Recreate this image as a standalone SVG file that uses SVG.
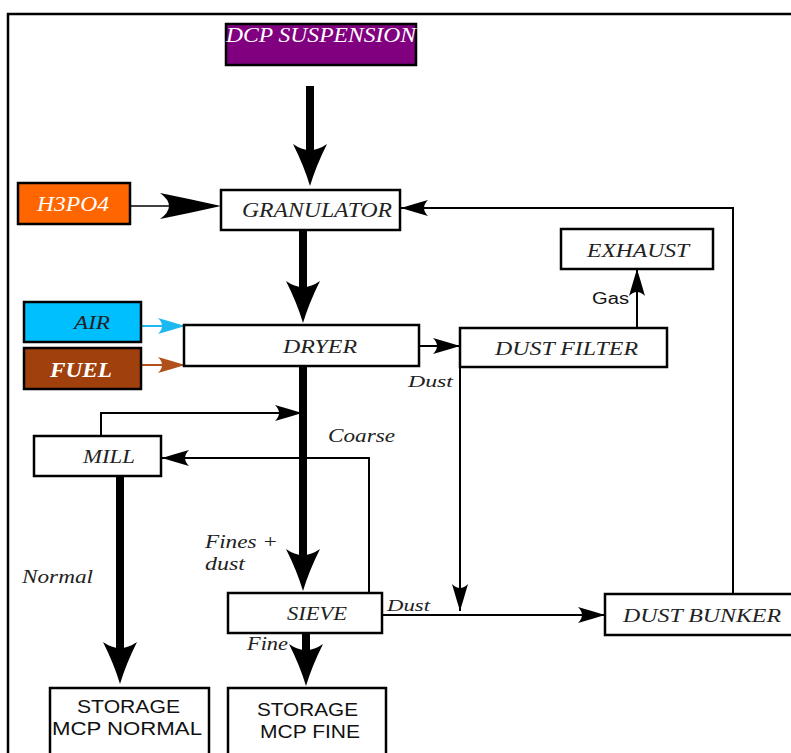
<svg xmlns="http://www.w3.org/2000/svg" width="791" height="753" viewBox="0 0 791 753">
<style>
.box{stroke:#000;stroke-width:2.5;fill:#fff}
.it{font-family:"Liberation Serif","Times New Roman",serif;font-style:italic;fill:#222}
.sans{font-family:"Liberation Sans",Arial,sans-serif;fill:#111}
.ln{stroke:#000;stroke-width:2;fill:none}
.thick{stroke:#000;stroke-width:8;fill:none}
</style>
<defs>
<path id="thead" d="M0,0 Q-6,-20 -17,-42 Q0,-30 17,-42 Q6,-20 0,0Z" fill="#000"/>
<marker id="ah" markerUnits="userSpaceOnUse" markerWidth="28" markerHeight="16" refX="27" refY="8" orient="auto"><path d="M27,8 Q14,4 0,0 Q8,8 0,16 Q14,12 27,8Z" fill="#000"/></marker>
<marker id="ahc" markerUnits="userSpaceOnUse" markerWidth="28" markerHeight="16" refX="27" refY="8" orient="auto"><path d="M27,8 Q14,4 0,0 Q8,8 0,16 Q14,12 27,8Z" fill="#1EB8F0"/></marker>
<marker id="ahb" markerUnits="userSpaceOnUse" markerWidth="28" markerHeight="16" refX="27" refY="8" orient="auto"><path d="M27,8 Q14,4 0,0 Q8,8 0,16 Q14,12 27,8Z" fill="#B0501A"/></marker>
</defs>
<rect width="791" height="753" fill="#fff"/>
<path d="M8,753 V14 H791" stroke="#000" stroke-width="2.5" fill="none"/>

<g id="connectors">
<line class="thick" x1="310" y1="86" x2="310" y2="160"/><use href="#thead" x="310" y="186"/>
<line class="thick" x1="303" y1="230" x2="303" y2="300"/><use href="#thead" x="303" y="323"/>
<line class="thick" x1="303" y1="366" x2="303" y2="570"/><use href="#thead" x="303" y="591"/>
<line class="thick" x1="120" y1="476" x2="120" y2="660"/><use href="#thead" x="120" y="684"/>
<line class="thick" x1="306" y1="633" x2="306" y2="662"/><use href="#thead" x="306" y="686"/>
<line x1="130" y1="206" x2="200" y2="206" stroke="#000" stroke-width="1.5"/>
<path d="M221,206 Q190,199 160,193 Q178,206 160,219 Q190,213 221,206Z" fill="#000"/>
<path class="ln" d="M733,594 V208 H401" marker-end="url(#ah)"/>
<line x1="141" y1="326" x2="185" y2="326" stroke="#1EB8F0" stroke-width="2" marker-end="url(#ahc)"/>
<line x1="141" y1="365" x2="185" y2="365" stroke="#B0501A" stroke-width="2" marker-end="url(#ahb)"/>
<line class="ln" x1="419" y1="346" x2="460" y2="346" marker-end="url(#ah)"/>
<line class="ln" x1="637" y1="328" x2="637" y2="269" marker-end="url(#ah)"/>
<line class="ln" x1="460" y1="367" x2="460" y2="611" marker-end="url(#ah)"/>
<path class="ln" d="M101,436 V413 H302" marker-end="url(#ah)"/>
<path class="ln" d="M369,593 V458 H162" marker-end="url(#ah)"/>
<line class="ln" x1="382" y1="615" x2="605" y2="615" marker-end="url(#ah)"/>
</g>

<g id="dcp"><rect x="226" y="24" width="190" height="41" fill="#800080" stroke="#000" stroke-width="2.5"/><text class="it" x="226" y="42" font-size="20" textLength="190" lengthAdjust="spacingAndGlyphs" style="fill:#fff">DCP SUSPENSION</text></g>
<g id="h3po4"><rect x="18" y="183" width="112" height="41" fill="#FF6600" stroke="#000" stroke-width="2.5"/><text class="it" x="37" y="211" font-size="20" textLength="72" lengthAdjust="spacingAndGlyphs" style="fill:#fff">H3PO4</text></g>
<g id="granulator"><rect class="box" x="221" y="190" width="179" height="40"/><text class="it" x="242" y="217" font-size="20" textLength="150" lengthAdjust="spacingAndGlyphs">GRANULATOR</text></g>
<g id="exhaust"><rect class="box" x="561" y="229" width="152" height="40"/><text class="it" x="587" y="257" font-size="19" textLength="102" lengthAdjust="spacingAndGlyphs">EXHAUST</text></g>
<g id="air"><rect x="24" y="302" width="117" height="40" fill="#00BFFF" stroke="#000" stroke-width="2.5"/><text class="it" x="74" y="329" font-size="19" textLength="36" lengthAdjust="spacingAndGlyphs">AIR</text></g>
<g id="fuel"><rect x="24" y="348" width="117" height="41" fill="#A0410D" stroke="#000" stroke-width="2.5"/><text class="it" x="50" y="377" font-size="20" font-weight="bold" textLength="62" lengthAdjust="spacingAndGlyphs" style="fill:#fff">FUEL</text></g>
<g id="dryer"><rect class="box" x="184" y="325" width="235" height="41"/><text class="it" x="283" y="353" font-size="19" textLength="74" lengthAdjust="spacingAndGlyphs">DRYER</text></g>
<g id="dustfilter"><rect class="box" x="460" y="328" width="207" height="39"/><text class="it" x="495" y="355" font-size="19" textLength="143" lengthAdjust="spacingAndGlyphs">DUST FILTER</text></g>
<g id="mill"><rect class="box" x="34" y="436" width="127" height="40"/><text class="it" x="83" y="463" font-size="19" textLength="52" lengthAdjust="spacingAndGlyphs">MILL</text></g>
<g id="sieve"><rect class="box" x="228" y="593" width="154" height="40"/><text class="it" x="287" y="620" font-size="19" textLength="60" lengthAdjust="spacingAndGlyphs">SIEVE</text></g>
<g id="dustbunker"><rect class="box" x="605" y="594" width="190" height="41"/><text class="it" x="623" y="622" font-size="19" textLength="158" lengthAdjust="spacingAndGlyphs">DUST BUNKER</text></g>
<g id="storagenormal"><rect class="box" x="50" y="688" width="159" height="70"/><text class="sans" x="77" y="713" font-size="19" textLength="103" lengthAdjust="spacingAndGlyphs">STORAGE</text><text class="sans" x="52" y="735" font-size="19" textLength="150" lengthAdjust="spacingAndGlyphs">MCP NORMAL</text></g>
<g id="storagefine"><rect class="box" x="228" y="688" width="158" height="70"/><text class="sans" x="257" y="716" font-size="19" textLength="101" lengthAdjust="spacingAndGlyphs">STORAGE</text><text class="sans" x="260" y="738" font-size="19" textLength="100" lengthAdjust="spacingAndGlyphs">MCP FINE</text></g>

<g id="labels">
<text class="sans" x="592" y="304" font-size="16" textLength="37" lengthAdjust="spacingAndGlyphs">Gas</text>
<text class="it" x="408" y="387" font-size="17" textLength="45" lengthAdjust="spacingAndGlyphs">Dust</text>
<text class="it" x="328" y="442" font-size="18" textLength="67" lengthAdjust="spacingAndGlyphs">Coarse</text>
<text class="it" x="205" y="548" font-size="18" textLength="73" lengthAdjust="spacingAndGlyphs">Fines +</text>
<text class="it" x="205" y="570" font-size="18" textLength="40" lengthAdjust="spacingAndGlyphs">dust</text>
<text class="it" x="22" y="583" font-size="18" textLength="71" lengthAdjust="spacingAndGlyphs">Normal</text>
<text class="it" x="387" y="611" font-size="17" textLength="43" lengthAdjust="spacingAndGlyphs">Dust</text>
<text class="it" x="247" y="650" font-size="18" textLength="41" lengthAdjust="spacingAndGlyphs">Fine</text>
</g>
</svg>
